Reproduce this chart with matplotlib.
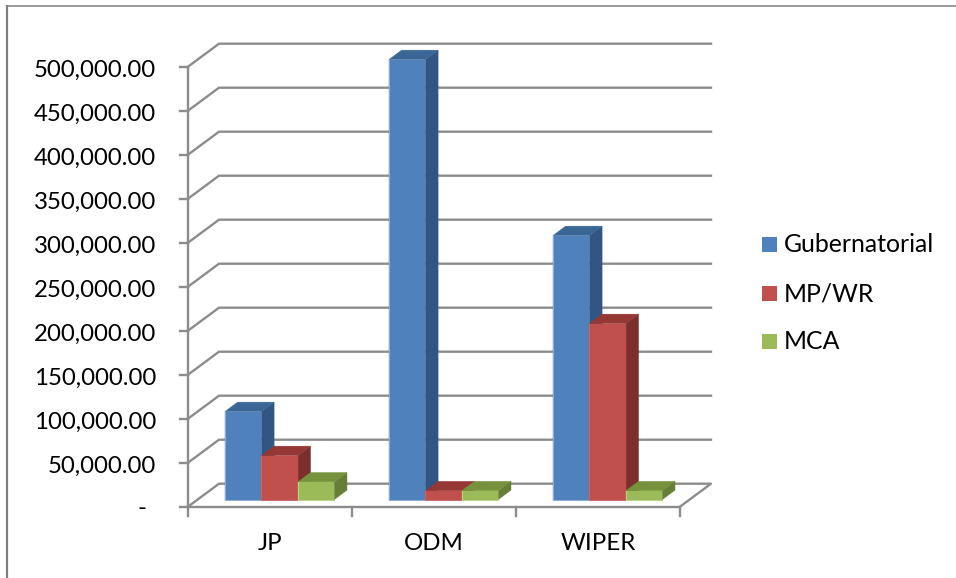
#!/usr/bin/env python3
""" Clustered 3-D style column chart of party fees by election seat. """

import matplotlib
matplotlib.use('Agg')
import matplotlib.pyplot as plt
from matplotlib.patches import Polygon

# Chart data
parties = ['JP', 'ODM', 'WIPER']
gubernatorial = [100000, 500000, 300000]
mp_wr = [50000, 10000, 200000]
mca = [20000, 10000, 10000]
series_names = ['Gubernatorial', 'MP/WR', 'MCA']
y_ticks = [0, 50000, 100000, 150000, 200000, 250000,
           300000, 350000, 400000, 450000, 500000]

# Face colours per series (front, side, top, rim)
colors = [('#4F81BD', '#325683', '#3A6695', '#8FB0D8'),
          ('#C0504D', '#7C302E', '#943735', '#C96A67'),
          ('#9BBB59', '#657F36', '#76923C', '#BBD48A')]
grid_color = '#8C8C8C'
frame_color = '#7F7F7F'
font_size = 17.3

# Plot box in pixels, depth is the offset from the front to the back wall
left, right = 188, 680
floor, top = 506.7, 66.7
depth_x, depth_y = 31, -23
y_max = 500000
gap = 1.5  # gap width, in bars


def project(cat, value, depth=0.0):
    """ Gets the pixel position for a category, value and depth (0-1). """
    x = left + cat * (right - left) / len(parties)
    y = floor - value / y_max * (floor - top)
    return x + depth * depth_x, y + depth * depth_y


def draw_bar(ax, cat, value, face):
    """ Draws one column: side and top first, then the front. """
    x0, x1 = cat, cat + bar_width
    d0, d1 = 0.31, 0.72
    front, side, roof, rim = face
    side_pts = [project(x1, 0, d0), project(x1, 0, d1),
                project(x1, value, d1), project(x1, value, d0)]
    top_pts = [project(x0, value, d0), project(x0, value, d1),
               project(x1, value, d1), project(x1, value, d0)]
    front_pts = [project(x0, 0, d0), project(x1, 0, d0),
                 project(x1, value, d0), project(x0, value, d0)]
    ax.add_patch(Polygon(side_pts, fc=side, ec=side, lw=0.3, zorder=3))
    ax.add_patch(Polygon(top_pts, fc=roof, ec=roof, lw=0.3, zorder=3))
    ax.add_patch(Polygon(front_pts, fc=front, ec=front, lw=0.3, zorder=3))
    # Soft light rim along the left and bottom of the front face
    rim_pts = [project(x0, value, d0), project(x0, 0, d0), project(x1, 0, d0)]
    ax.plot(*zip(*rim_pts), color=rim, lw=0.7, zorder=4)


bar_width = 1 / (len(series_names) + gap)

fig = plt.figure(figsize=(9.56, 5.78), dpi=100)
ax = fig.add_axes([0, 0, 1, 1])
ax.set_xlim(0, 956)
ax.set_ylim(578, 0)
ax.axis('off')
plt.rcParams['font.family'] = 'Lato'

# Outer frame of the chart area
ax.plot([7.5, 7.5], [578, 5], color=frame_color, lw=1.6, zorder=1,
        solid_capstyle='butt')
ax.plot([7, 956], [5.5, 5.5], color=frame_color, lw=1.1, zorder=1,
        solid_capstyle='butt')

# Wall gridlines, with the tick on the value axis
for tick in y_ticks:
    pts = [project(0, tick), project(0, tick, 1), project(len(parties), tick, 1)]
    if tick == 0:
        pts.append(project(len(parties), tick))
    ax.plot(*zip(*pts), color=grid_color, lw=1.7, zorder=2)
    x, y = project(0, tick)
    ax.plot([x - 8, x], [y, y], color=grid_color, lw=1.7, zorder=2)
    if tick:
        ax.text(156, y + 4, '{:,.2f}'.format(tick), ha='right', va='center',
                fontsize=font_size, color='#000000')
    else:
        ax.text(142, y + 2, '-', ha='center', va='center',
                fontsize=font_size, color='#000000')

# Value axis and floor front edge
ax.plot(*zip(project(0, 0), project(0, y_max)), color=grid_color, lw=1.7, zorder=2)
ax.plot(*zip(project(0, 0), project(len(parties), 0)), color=grid_color, lw=1.7, zorder=2)

# Category ticks and labels
for i in range(len(parties) + 1):
    x, y = project(i, 0)
    ax.plot([x, x], [y, y + 9], color=grid_color, lw=1.7, zorder=2)
for i, party in enumerate(parties):
    x, y = project(i + 0.5, 0)
    ax.text(x, 544, party, ha='center', va='center',
            fontsize=font_size, color='#000000')

# Columns, back to front within a cluster
for i in range(len(parties)):
    start = i + gap / 2 * bar_width
    for j, values in enumerate([gubernatorial, mp_wr, mca]):
        draw_bar(ax, start + j * bar_width, values[i], colors[j])

# Legend
for name, face, y in zip(series_names, colors, [244.5, 293.5, 341.5]):
    ax.add_patch(Polygon([(762, y - 7.5), (777, y - 7.5), (777, y + 7.5), (762, y + 7.5)],
                         fc=face[0], ec='none', zorder=3))
    ax.text(784, y, name, ha='left', va='center', fontsize=17.9, color='#000000')

fig.savefig('out.png', dpi=100)
